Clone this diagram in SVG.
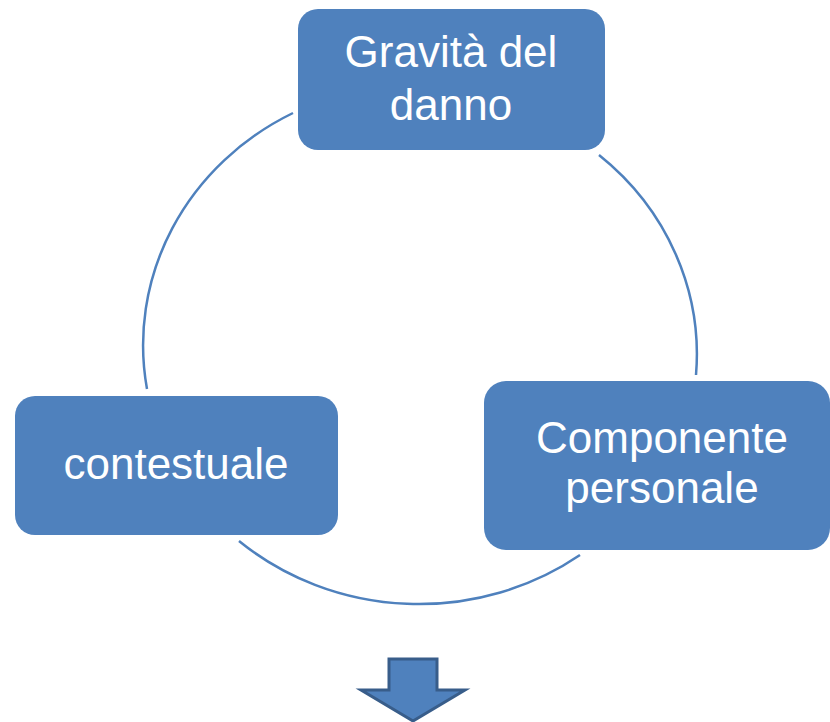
<svg xmlns="http://www.w3.org/2000/svg" width="830" height="722" viewBox="0 0 830 722">
  <style>
    .box { fill: #4F81BD; }
    .lbl { fill: #FFFFFF; font-family: "Liberation Sans", Arial, sans-serif; font-size: 44px; text-anchor: middle; }
    .arc { fill: none; stroke: #4F81BD; stroke-width: 2.5; }
  </style>
  <rect width="830" height="722" fill="#FFFFFF"/>
  <g id="connectors">
    <path class="arc" d="M 293 113 A 276 261 0 0 0 147 389"/>
    <path class="arc" d="M 599 155 A 276 261 0 0 1 696 375"/>
    <path class="arc" d="M 580 555 A 276 261 0 0 1 239 541"/>
  </g>
  <g id="node-gravita">
    <rect class="box" x="298" y="9" width="307" height="141" rx="20" ry="20"/>
    <text class="lbl" x="451" y="67">Gravità del</text>
    <text class="lbl" x="451" y="120">danno</text>
  </g>
  <g id="node-contestuale">
    <rect class="box" x="15" y="396" width="323" height="139" rx="20" ry="20"/>
    <text class="lbl" x="176" y="479">contestuale</text>
  </g>
  <g id="node-componente">
    <rect class="box" x="484" y="381" width="346" height="169" rx="22" ry="22"/>
    <text class="lbl" x="662" y="453">Componente</text>
    <text class="lbl" x="662" y="503">personale</text>
  </g>
  <g id="arrow-down">
    <polygon points="389,659 437,659 437,690 465,690 413,721 361,690 389,690" fill="#4F81BD" stroke="#385D8A" stroke-width="3" stroke-linejoin="miter"/>
  </g>
</svg>
